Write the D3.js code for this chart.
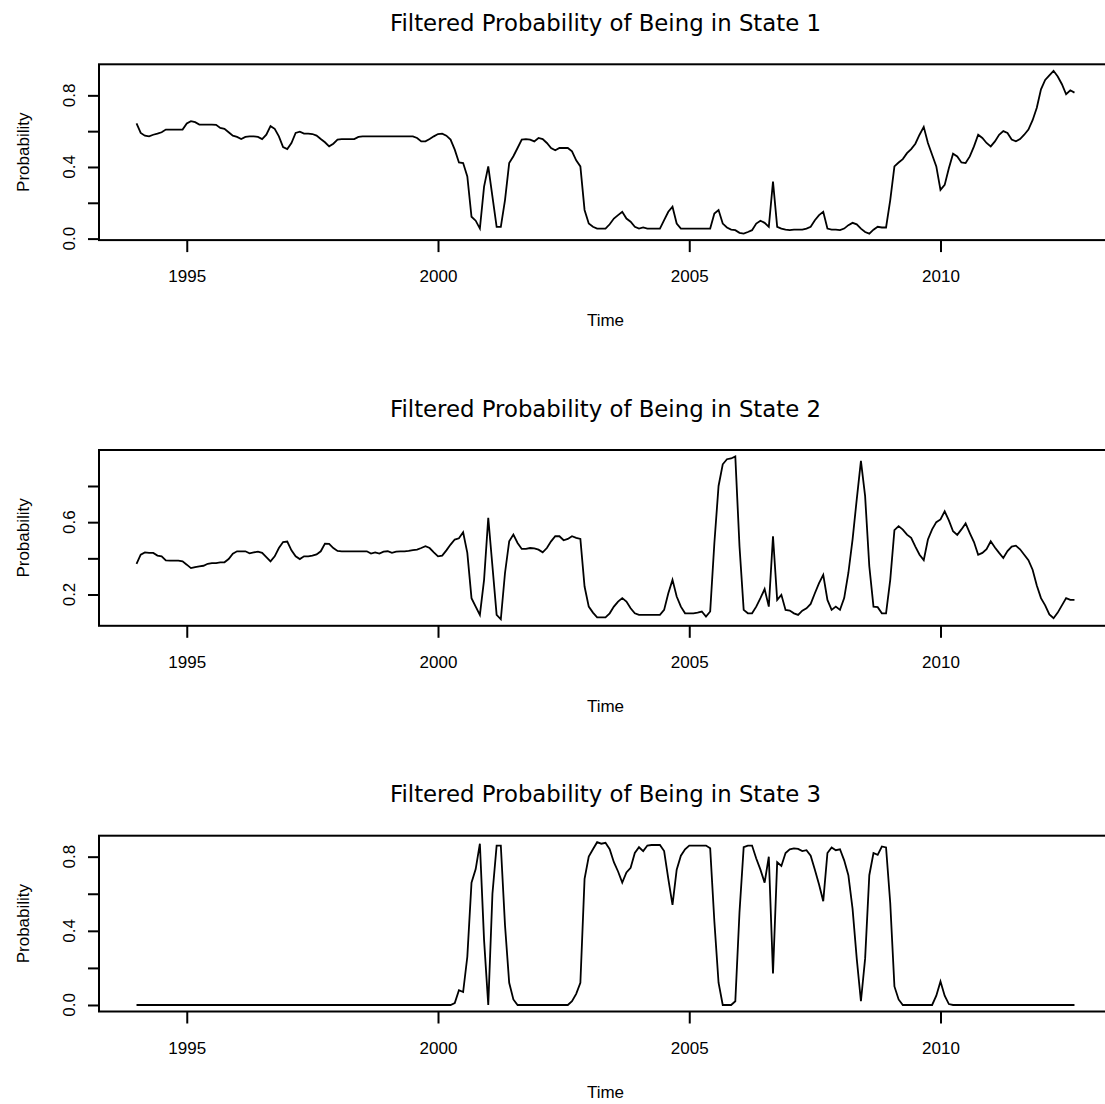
<!DOCTYPE html>
<html>
<head>
<meta charset="utf-8">
<script src="https://cdn.jsdelivr.net/npm/d3@7"></script>
<style>
  body { margin: 0; background: #fff; }
  svg { display: block; }
</style>
</head>
<body>
<div id="chart"></div>
<script>
// monthly series, starting Jan 1994
const startYear = 1994;
const frequency = 12;

const state1 = [
  .643,.59,.575,.571,.58,.586,.594,.609,.609,.609,.609,.609,
  .643,.656,.65,.637,.637,.637,.637,.635,.618,.613,.594,.575,
  .568,.556,.568,.571,.571,.568,.556,.58,.628,.613,.571,.511,
  .5,.534,.59,.597,.586,.586,.584,.575,.556,.538,.515,.53,
  .553,.556,.556,.556,.556,.568,.571,.571,.571,.571,.571,.571,
  .571,.571,.571,.571,.571,.571,.571,.562,.543,.543,.556,.571,
  .584,.586,.575,.553,.497,.425,.422,.347,.122,.1,.056,.29,
  .403,.234,.066,.066,.215,.422,.46,.506,.553,.556,.553,.543,
  .562,.556,.534,.506,.493,.506,.506,.506,.487,.437,.403,.16,
  .084,.066,.056,.056,.056,.08,.112,.131,.15,.112,.094,.066,
  .056,.062,.056,.056,.056,.056,.103,.15,.178,.084,.056,.056,
  .056,.056,.056,.056,.056,.056,.14,.16,.084,.062,.05,.047,
  .032,.028,.037,.047,.084,.1,.088,.066,.318,.066,.056,.05,
  .047,.05,.05,.05,.056,.066,.103,.131,.15,.056,.05,.05,
  .047,.056,.075,.088,.08,.056,.037,.028,.05,.066,.062,.062,
  .215,.403,.425,.444,.477,.5,.53,.58,.624,.534,.468,.403,
  .272,.3,.393,.474,.459,.425,.422,.459,.515,.58,.562,.534,
  .515,.543,.58,.6,.59,.553,.543,.556,.58,.609,.661,.731,
  .834,.886,.912,.937,.905,.862,.806,.828,.815
];

const state2 = [
  .37,.42,.433,.43,.43,.415,.411,.389,.387,.387,.387,.383,
  .365,.346,.352,.356,.359,.37,.374,.374,.378,.378,.396,.426,
  .439,.439,.439,.428,.433,.437,.43,.407,.383,.411,.457,.49,
  .493,.444,.411,.396,.411,.411,.415,.422,.439,.481,.48,.457,
  .441,.439,.439,.439,.439,.439,.439,.439,.426,.433,.426,.437,
  .439,.43,.437,.439,.439,.441,.446,.448,.457,.467,.457,.433,
  .411,.415,.444,.476,.504,.511,.544,.43,.18,.133,.087,.281,
  .624,.356,.087,.063,.319,.494,.531,.485,.452,.452,.457,.455,
  .448,.433,.457,.494,.522,.522,.5,.507,.522,.513,.507,.244,
  .133,.1,.074,.074,.074,.096,.133,.161,.18,.161,.124,.096,
  .087,.087,.087,.087,.087,.087,.115,.207,.281,.189,.133,.096,
  .096,.096,.1,.106,.078,.106,.485,.8,.92,.948,.952,.963,
  .467,.115,.096,.096,.133,.18,.23,.133,.522,.17,.198,.115,
  .111,.096,.087,.111,.124,.148,.207,.263,.309,.17,.115,.133,
  .115,.18,.319,.504,.726,.939,.744,.356,.133,.13,.096,.096,
  .281,.556,.578,.559,.531,.513,.465,.42,.39,.504,.56,.6,
  .615,.66,.61,.55,.53,.56,.593,.54,.49,.42,.43,.45,
  .494,.46,.43,.402,.44,.465,.47,.45,.42,.39,.337,.25,
  .18,.14,.09,.069,.1,.14,.18,.17,.17
];

const state3 = [
  0,0,0,0,0,0,0,0,0,0,0,0,
  0,0,0,0,0,0,0,0,0,0,0,0,
  0,0,0,0,0,0,0,0,0,0,0,0,
  0,0,0,0,0,0,0,0,0,0,0,0,
  0,0,0,0,0,0,0,0,0,0,0,0,
  0,0,0,0,0,0,0,0,0,0,0,0,
  0,0,0,0,.01,.08,.07,.26,.66,.733,.87,.35,
  0,.6,.86,.86,.43,.12,.03,0,0,0,0,0,
  0,0,0,0,0,0,0,0,.02,.06,.12,.68,
  .8,.84,.878,.87,.875,.84,.77,.72,.66,.715,.74,.82,
  .851,.83,.86,.863,.863,.863,.83,.68,.54,.73,.805,.84,
  .86,.86,.86,.86,.86,.845,.45,.12,0,0,0,.02,
  .5,.851,.86,.86,.79,.73,.66,.8,.17,.77,.75,.82,
  .84,.845,.842,.83,.835,.805,.73,.65,.56,.82,.85,.835,
  .84,.78,.7,.52,.25,.02,.25,.7,.82,.81,.855,.85,
  .55,.1,.03,0,0,0,0,0,0,0,0,.05,
  .127,.05,.005,0,0,0,0,0,0,0,0,0,
  0,0,0,0,0,0,0,0,0,0,0,0,
  0,0,0,0,0,0,0,0,0
];

const titles = [
  "Filtered Probability of Being in State 1",
  "Filtered Probability of Being in State 2",
  "Filtered Probability of Being in State 3"
];
const xTicks = [1995, 2000, 2005, 2010];
const yTicks = [[0, 0.2, 0.4, 0.6, 0.8], [0.2, 0.4, 0.6, 0.8], [0, 0.2, 0.4, 0.6, 0.8]];
const yTickLabels = [[0, 0.4, 0.8], [0.2, 0.6], [0, 0.4, 0.8]];

const chartWidth = 1105;
const chartHeight = 1104;
const plotLeft = 99;
const plotRight = 1112;
const panelTop = 64.3;
const panelStep = 385.7;
const panelHeight = 175.8;
const tickFont = "17px 'Liberation Sans', Arial, sans-serif";

const panels = [state1, state2, state3].map((values, i) => ({
  values,
  title: titles[i],
  ticks: yTicks[i],
  labels: yTickLabels[i]
}));

const times = state1.map((d, i) => startYear + i / frequency);
const tExt = d3.extent(times);
const tPad = (tExt[1] - tExt[0]) * 0.04;

const x = d3
  .scaleLinear()
  .domain([tExt[0] - tPad, tExt[1] + tPad])
  .range([plotLeft, plotRight]);

const svg = d3
  .select("#chart")
  .append("svg")
  .attr("width", chartWidth)
  .attr("height", chartHeight);

svg.append("rect").attr("width", chartWidth).attr("height", chartHeight).attr("fill", "#fff");

const midX = (plotLeft + plotRight) / 2;

panels.forEach((p, i) => {
  const top = panelTop + i * panelStep;
  const bottom = top + panelHeight;
  const ext = d3.extent(p.values);
  const pad = (ext[1] - ext[0]) * 0.04;
  const y = d3
    .scaleLinear()
    .domain([ext[0] - pad, ext[1] + pad])
    .range([bottom, top]);

  const g = svg.append("g").attr("class", "panel");

  // title
  g.append("text")
    .attr("x", midX)
    .attr("y", top - 33.3)
    .attr("text-anchor", "middle")
    .style("font", "22.8px 'DejaVu Sans', sans-serif")
    .text(p.title);

  // series
  const line = d3
    .line()
    .x((d, j) => x(times[j]))
    .y(d => y(d));

  g.append("path")
    .datum(p.values)
    .attr("fill", "none")
    .attr("stroke", "#000")
    .attr("stroke-width", 1.8)
    .attr("d", line);

  // box
  g.append("rect")
    .attr("x", plotLeft)
    .attr("y", top)
    .attr("width", plotRight - plotLeft)
    .attr("height", panelHeight)
    .attr("fill", "none")
    .attr("stroke", "#000")
    .attr("stroke-width", 2);

  // x axis
  const xAxis = g
    .append("g")
    .attr("transform", `translate(0,${bottom})`)
    .call(d3.axisBottom(x).tickValues(xTicks).tickSize(12).tickFormat(d3.format("d")));
  xAxis.select(".domain").remove();
  xAxis.selectAll("line").attr("stroke", "#000").attr("stroke-width", 2);
  xAxis.selectAll("text")
    .attr("y", 42)
    .attr("dy", null)
    .attr("fill", "#000")
    .style("font", tickFont);

  // y axis
  const yAxis = g
    .append("g")
    .attr("transform", `translate(${plotLeft},0)`)
    .call(d3.axisLeft(y).tickValues(p.ticks).tickSize(11).tickFormat(""));
  yAxis.select(".domain").remove();
  yAxis.selectAll("line").attr("stroke", "#000").attr("stroke-width", 2);

  g.selectAll(".ylab")
    .data(p.labels)
    .enter()
    .append("text")
    .attr("class", "ylab")
    .attr("transform", d => `translate(75,${y(d)}) rotate(-90)`)
    .attr("text-anchor", "middle")
    .style("font", tickFont)
    .text(d3.format(".1f"));

  g.append("text")
    .attr("transform", `translate(28.5,${(top + bottom) / 2}) rotate(-90)`)
    .attr("text-anchor", "middle")
    .style("font", tickFont)
    .text("Probability");

  g.append("text")
    .attr("x", midX)
    .attr("y", bottom + 86)
    .attr("text-anchor", "middle")
    .style("font", tickFont)
    .text("Time");
});
</script>
</body>
</html>
